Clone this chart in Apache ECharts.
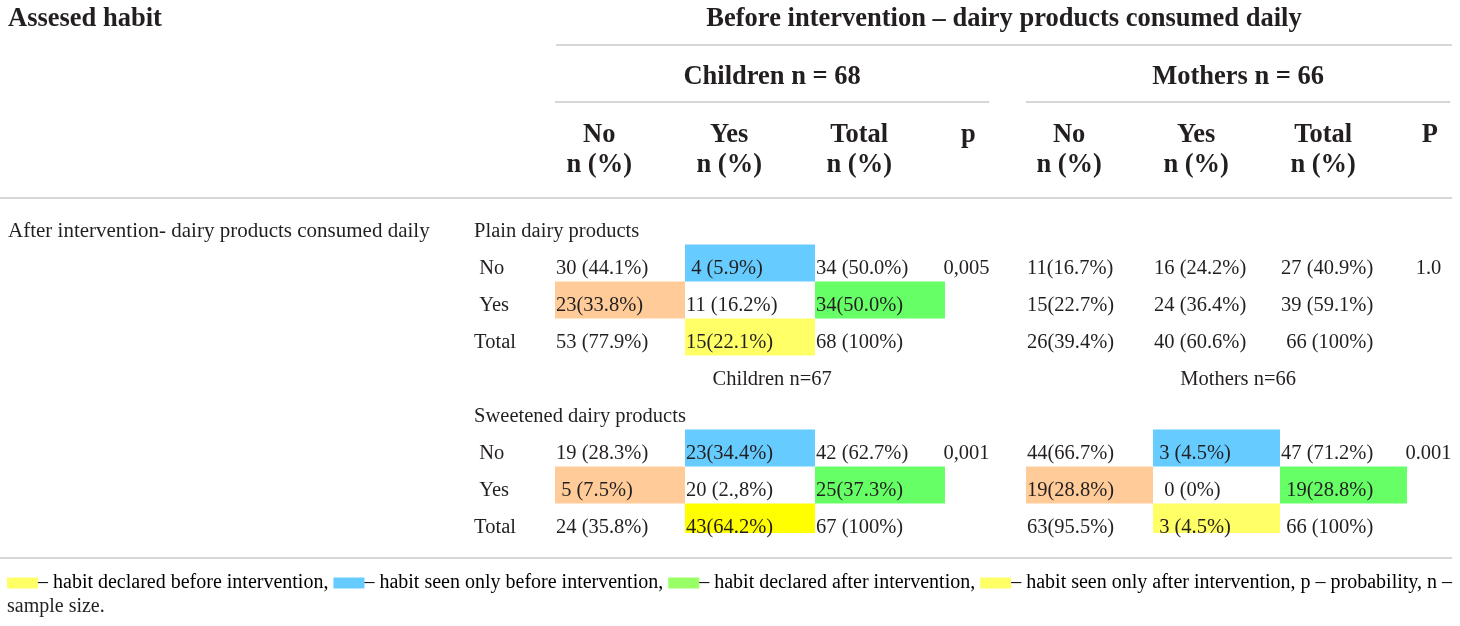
<!DOCTYPE html>
<html lang="en">
<head>
<meta charset="UTF-8" />
<title>Dairy habits before / after intervention</title>
<script src="https://cdn.jsdelivr.net/npm/echarts@6/dist/echarts.min.js"></script>
<style>html, body { margin: 0; background: #fff; }</style>
</head>
<body>
<div id="main" style="width: 1460px; height: 626px"></div>
<script type="text/javascript">
// table text, as printed
const stubTitle = 'Assesed habit';
const mainTitle = 'Before intervention – dairy products consumed daily';
const stubLabel = 'After intervention- dairy products consumed daily';
const groups = ['Children n = 68', 'Mothers n = 66'];
const colHeads = ['No', 'Yes', 'Total'];
const colUnit = 'n (%)';
const pHeads = ['p', 'P'];
const sections = ['Plain dairy products', 'Sweetened dairy products'];
const rowLabels = [' No', ' Yes', 'Total'];
const midLabels = ['Children n=67', 'Mothers n=66'];

// cells [row][No, Yes, Total]
const childrenPlain = [['30 (44.1%)', ' 4 (5.9%)', '34 (50.0%)'], ['23(33.8%)', '11 (16.2%)', '34(50.0%)'], ['53 (77.9%)', '15(22.1%)', '68 (100%)']];
const childrenSweet = [['19 (28.3%)', '23(34.4%)', '42 (62.7%)'], [' 5 (7.5%)', '20 (2.,8%)', '25(37.3%)'], ['24 (35.8%)', '43(64.2%)', '67 (100%)']];
const mothersPlain = [['11(16.7%)', '16 (24.2%)', '27 (40.9%)'], ['15(22.7%)', '24 (36.4%)', '39 (59.1%)'], ['26(39.4%)', '40 (60.6%)', ' 66 (100%)']];
const mothersSweet = [['44(66.7%)', ' 3 (4.5%)', '47 (71.2%)'], ['19(28.8%)', '  0 (0%)', ' 19(28.8%)'], ['63(95.5%)', ' 3 (4.5%)', ' 66 (100%)']];
const pChildren = ['0,005', '0,001'];
const pMothers = ['  1.0', '0.001'];

// shading marks per cell: B seen only before, O, G declared after, Y / Y2 yellow
const shadeChildrenPlain = [['', 'B', ''], ['O', '', 'G'], ['', 'Y', '']];
const shadeChildrenSweet = [['', 'B', ''], ['O', '', 'G'], ['', 'Y2', '']];
const shadeMothersPlain = [['', '', ''], ['', '', ''], ['', '', '']];
const shadeMothersSweet = [['', 'B', ''], ['O', '', 'G'], ['', 'Y', '']];

const legendKeys = ['Y', 'B', 'G', 'Y'];
const legendTexts = ['– habit declared before intervention, ', '– habit seen only before intervention, ', '– habit declared after intervention, ', '– habit seen only after intervention, p – probability, n –'];
const legendTail = 'sample size.';

// ---- styles & layout ----
const FONT = '"Liberation Serif", "DejaVu Serif", serif';
const INK = '#231f20';
const RULE = '#c9c9c9';
const SHADE = { B: '#66ccff', O: '#ffcc99', G: '#66ff66', Y: '#ffff66', Y2: '#ffff00' };
const LEG = { Y: '#ffff66', B: '#66ccff', G: '#99ff66' };
const BODY = 20.5, STUB = 21, HEAD = 26.5, FOOT = 20;
const L = {
  groups: [{ left: 555, colW: 130, span: 3.6 }, { left: 1026, colW: 127, span: 3.4 }],
  groupSpan: 3.34, rowTop: 207.5, rowH: 37, rows: 9, textDy: 5.5,
  groupRow: -4.14, groupRuleRow: -3.35, headRow1: -2.56, headRow2: -1.76,
  headOff: 0.34, pHeadOff: 0.18, stubCol: -0.63, lastShadeH: 0.8
};

const tables = [[childrenPlain, childrenSweet], [mothersPlain, mothersSweet]];
const shades = [[shadeChildrenPlain, shadeChildrenSweet], [shadeMothersPlain, shadeMothersSweet]];
const pVals = [pChildren, pMothers];
const shadeCodes = ['B', 'O', 'G', 'Y', 'Y2'];

// text styles: 0 body left, 1 bold centre, 2 body centre
const textStyles = [
  { fontSize: BODY, fontWeight: 'normal', align: 'left', dy: L.textDy },
  { fontSize: HEAD, fontWeight: 'bold', align: 'center', dy: 4 },
  { fontSize: BODY, fontWeight: 'normal', align: 'center', dy: L.textDy }
];

const grids = [], xAxes = [], yAxes = [], series = [];

L.groups.forEach((gl, g) => {
  grids.push({ left: gl.left, top: L.rowTop, width: gl.colW * gl.span, height: L.rowH * L.rows });
  xAxes.push({ type: 'value', gridIndex: g, min: 0, max: gl.span, show: false });
  yAxes.push({ type: 'value', gridIndex: g, min: -0.5, max: L.rows - 0.5, inverse: true, show: false });

  const texts = [];
  const textData = [];
  const shadeData = [];
  const addText = (c, r, t, s) => { texts.push(t); textData.push([c, r, texts.length - 1, s]); };

  // group header, column headings
  addText(L.groupSpan / 2, L.groupRow, groups[g], 1);
  colHeads.forEach((h, j) => {
    addText(j + L.headOff, L.headRow1, h, 1);
    addText(j + L.headOff, L.headRow2, colUnit, 1);
  });
  addText(3 + L.pHeadOff, L.headRow1, pHeads[g], 1);

  // body
  sections.forEach((sec, s) => {
    const base = s * 5;
    if (g === 0) addText(L.stubCol, base, sec, 0);
    tables[g][s].forEach((row, i) => {
      if (g === 0) addText(L.stubCol, base + 1 + i, rowLabels[i], 0);
      row.forEach((cell, j) => {
        addText(j, base + 1 + i, cell, 0);
        const code = shades[g][s][i][j];
        if (code) shadeData.push([j, base + 1 + i, shadeCodes.indexOf(code), (s === 1 && i === 2) ? L.lastShadeH : 1]);
      });
    });
    addText(3 - 0.02, base + 1, pVals[g][s], 0);
  });
  addText(L.groupSpan / 2, 4, midLabels[g], 2);

  series.push({
    type: 'custom', xAxisIndex: g, yAxisIndex: g, clip: false, silent: true, z: 1,
    data: shadeData,
    renderItem: (params, api) => {
      const c = api.value(0), r = api.value(1);
      const a = api.coord([c, r - 0.5]);
      const b = api.coord([c + 1, r + 0.5]);
      return {
        type: 'rect',
        shape: { x: a[0], y: a[1], width: b[0] - a[0], height: (b[1] - a[1]) * api.value(3) },
        style: { fill: SHADE[shadeCodes[api.value(2)]] }
      };
    }
  });
  series.push({
    type: 'custom', xAxisIndex: g, yAxisIndex: g, clip: false, silent: true, z: 2,
    data: [[0, L.groupSpan, L.groupRuleRow]],
    renderItem: (params, api) => {
      const a = api.coord([api.value(0), api.value(2)]);
      const b = api.coord([api.value(1), api.value(2)]);
      return { type: 'line', shape: { x1: a[0], y1: a[1], x2: b[0], y2: b[1] }, style: { stroke: RULE, lineWidth: 1.5 } };
    }
  });
  series.push({
    type: 'custom', xAxisIndex: g, yAxisIndex: g, clip: false, silent: true, z: 3,
    data: textData,
    renderItem: (params, api) => {
      const p = api.coord([api.value(0), api.value(1)]);
      const st = textStyles[api.value(3)];
      return {
        type: 'text',
        x: p[0] + (st.align === 'left' ? 1 : 0),
        y: p[1] + st.dy,
        style: {
          text: texts[api.value(2)], fill: INK, fontFamily: FONT,
          fontSize: st.fontSize, fontWeight: st.fontWeight,
          align: st.align, verticalAlign: 'middle'
        }
      };
    }
  });
});

// footer legend as rich text
const rich = { t: { fontSize: FOOT, fontFamily: FONT, color: INK, lineHeight: 24 } };
Object.keys(LEG).forEach(k => { rich[k] = { width: 31, height: 11, backgroundColor: LEG[k] }; });
const legendLine = legendKeys.map((k, i) => '{' + k + '| }{t|' + legendTexts[i] + '}').join('');

const option = {
  animation: false,
  backgroundColor: '#fff',
  grid: grids, xAxis: xAxes, yAxis: yAxes, series: series,
  graphic: [
    { type: 'text', x: 8, y: 19, style: { text: stubTitle, fontFamily: FONT, fontSize: HEAD, fontWeight: 'bold', fill: INK, verticalAlign: 'middle' } },
    { type: 'text', x: 1004, y: 19, style: { text: mainTitle, fontFamily: FONT, fontSize: HEAD, fontWeight: 'bold', fill: INK, align: 'center', verticalAlign: 'middle' } },
    { type: 'line', shape: { x1: 556, y1: 45, x2: 1452, y2: 45 }, style: { stroke: RULE, lineWidth: 1.5 } },
    { type: 'line', shape: { x1: 0, y1: 198, x2: 1452, y2: 198 }, style: { stroke: RULE, lineWidth: 1.5 } },
    { type: 'text', x: 8, y: 231.5, style: { text: stubLabel, fontFamily: FONT, fontSize: STUB, fill: INK, verticalAlign: 'middle' } },
    { type: 'line', shape: { x1: 0, y1: 558, x2: 1452, y2: 558 }, style: { stroke: RULE, lineWidth: 1.5 } },
    { type: 'text', x: 7, y: 583, style: { text: legendLine, rich: rich, verticalAlign: 'middle' } },
    { type: 'text', x: 7, y: 607, style: { text: legendTail, fontFamily: FONT, fontSize: FOOT, fill: INK, verticalAlign: 'middle' } }
  ]
};

const myChart = echarts.init(document.getElementById('main'));
myChart.setOption(option);
</script>
</body>
</html>
